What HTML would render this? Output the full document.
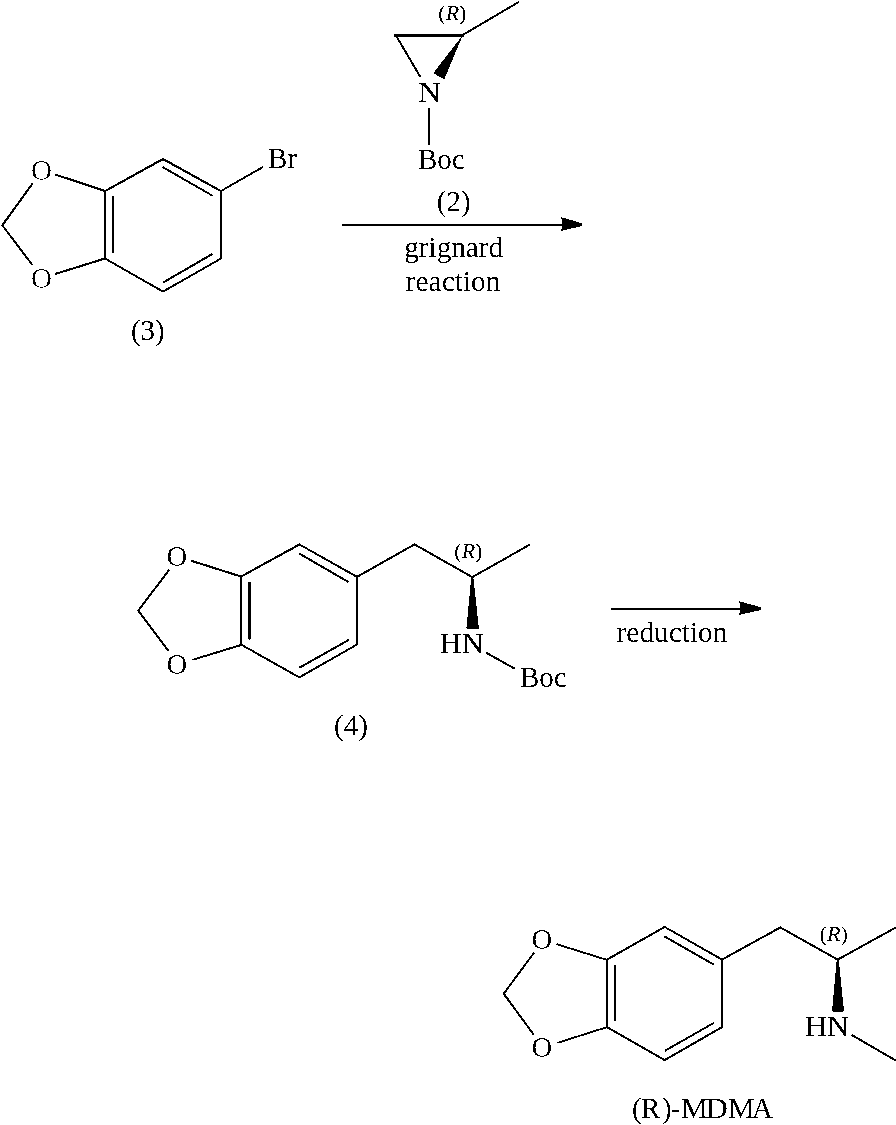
<!DOCTYPE html>
<html><head><meta charset="utf-8">
<style>
html,body{margin:0;padding:0;background:#fff;width:896px;height:1125px;overflow:hidden}
svg{display:block;will-change:transform}
text{font-family:"Liberation Serif",serif;font-size:29px;fill:#000}
.r{font-size:22px}
</style></head>
<body>
<svg width="896" height="1125" viewBox="0 0 896 1125">
<defs>
<filter id="bin" x="0" y="0" width="896" height="1125" filterUnits="userSpaceOnUse" color-interpolation-filters="sRGB"><feComponentTransfer><feFuncR type="discrete" tableValues="0 1"/><feFuncG type="discrete" tableValues="0 1"/><feFuncB type="discrete" tableValues="0 1"/></feComponentTransfer></filter>
<filter id="bint" x="0" y="0" width="896" height="1125" filterUnits="userSpaceOnUse" color-interpolation-filters="sRGB"><feComponentTransfer><feFuncA type="discrete" tableValues="0 1"/></feComponentTransfer></filter>
<filter id="bino" x="0" y="0" width="896" height="1125" filterUnits="userSpaceOnUse" color-interpolation-filters="sRGB"><feComponentTransfer><feFuncA type="discrete" tableValues="0 0 1"/></feComponentTransfer></filter>
</defs>
<g id="lines" filter="url(#bin)">
<rect width="896" height="1125" fill="#fff"/>
<g stroke="#000" stroke-width="2" fill="none" stroke-linecap="butt" stroke-linejoin="miter">
<!-- molecule 3 -->
<path d="M163 159 L221 191 L221 258.5 L163 291.5 L105 258.5 L105 191 Z"/>
<path d="M162.7 167.2 L213 196 M163.3 282.4 L212.6 253.8 M113 196 L113 253"/>
<path d="M221 191 L263.1 166.8"/>
<path d="M55.1 174.5 L105 191 M55.1 274 L105 258.5 M32.8 183.1 L2.3 225.3 L32.4 265"/>
<!-- aziridine -->
<path d="M396 35.6 L420.2 76.8 M463.3 34.6 L519.3 1.7 M429 108 L429 145"/>
<path d="M394 35.5 L463.5 35.5" stroke-width="3"/>
<!-- arrow 1 -->
<path d="M342 225 L562 225"/>
<!-- molecule 4 -->
<path d="M299.5 544.5 L357 576.8 L357 644.5 L299.3 677.3 L241 644.5 L241 576.5 Z"/>
<path d="M299.4 553.6 L348.6 582.1 M299.5 667.7 L348.8 639.8 M249.5 582 L249.5 639.4"/>
<path d="M357 576.8 L414.5 544.5 L472.3 577 L529.7 544.7"/>
<path d="M486.1 652.6 L514.5 668.6"/>
<path d="M191.2 560.8 L241 576.5 M192.3 659.9 L241 645 M169.2 569.7 L138.3 610.7 L168.6 651.2"/>
<!-- arrow 2 -->
<path d="M611 609 L740 609"/>
<!-- MDMA -->
<path d="M664.8 927 L722 959.6 L722 1027.2 L664.6 1060 L607 1027.2 L607 959.6 Z"/>
<path d="M664.4 936.4 L713.9 964.6 M664.8 1050.9 L714.5 1022.5 M615 965 L615 1021.3"/>
<path d="M722 959.6 L780.2 927.5 L837.7 959.6 L896.5 927"/>
<path d="M851.6 1034.9 L896.5 1061"/>
<path d="M556.6 944.1 L607 959.9 M557.3 1042.9 L607 1027.1 M534.2 952.5 L503.7 993.7 L533.6 1034.5"/>
</g>
<g fill="#000" stroke="none">
<path d="M462.8 35.1 L433.2 73.2 L444.3 79.3 Z"/>
<path d="M471.3 577 L473.3 577 L478.9 628.7 L466.4 628.7 Z"/>
<path d="M836.7 959.6 L838.7 959.6 L844 1011.6 L832 1011.6 Z"/>
<path d="M560.5 217 L582 223.3 L582 226 L560.5 231 L562.5 227 L562.5 221 Z"/>
<path d="M738.5 601 L761 607.2 L761 610 L738.5 615 L740.5 611 L740.5 605 Z"/>
</g>
</g>
<g id="texts" filter="url(#bint)">
<text x="267.9" y="167.9">Br</text>
<text x="130.9" y="340">(3)</text>
<text x="418" y="102" textLength="23.16" lengthAdjust="spacingAndGlyphs">N</text>
<text x="418" y="168.9">Boc</text>
<text x="436.8" y="211">(2)</text>
<text x="404.2" y="257" textLength="98.96" lengthAdjust="spacingAndGlyphs">grignard</text>
<text x="405.75" y="291.4" textLength="94.7" lengthAdjust="spacingAndGlyphs">reaction</text>
<text class="r" x="438.3" y="20">(<tspan font-style="italic">R</tspan>)</text>
<text x="439.8" y="653" textLength="44.1" lengthAdjust="spacingAndGlyphs">HN</text>
<text x="519.9" y="686.9">Boc</text>
<text x="334" y="735">(4)</text>
<text class="r" x="454.3" y="558">(<tspan font-style="italic">R</tspan>)</text>
<text x="616.6" y="641.8" textLength="110.8" lengthAdjust="spacingAndGlyphs">reduction</text>
<text x="804.9" y="1036" textLength="44.1" lengthAdjust="spacingAndGlyphs">HN</text>
<text class="r" x="819.6" y="940.8">(<tspan font-style="italic">R</tspan>)</text>
<text x="631.9" y="1117.8">(</text><text x="640.7" y="1117.8" textLength="19.65" lengthAdjust="spacingAndGlyphs">R</text><text x="662" y="1117.8">)</text><text x="670.9" y="1117.8" textLength="8.7" lengthAdjust="spacingAndGlyphs">-</text><text x="681" y="1117.8" textLength="26.9" lengthAdjust="spacingAndGlyphs">M</text><text x="705.6" y="1117.8" textLength="22.3" lengthAdjust="spacingAndGlyphs">D</text><text x="728" y="1117.8" textLength="26.8" lengthAdjust="spacingAndGlyphs">M</text><text x="751.9" y="1117.8">A</text>
</g>
<g id="otexts" filter="url(#bino)">
<text x="31" y="179.7">O</text>
<text x="31" y="287.5">O</text>
<text x="166.4" y="566.1">O</text>
<text x="166.4" y="673.6">O</text>
<text x="531.4" y="948.5">O</text>
<text x="531.4" y="1057">O</text>
</g>
</svg>
</body></html>
